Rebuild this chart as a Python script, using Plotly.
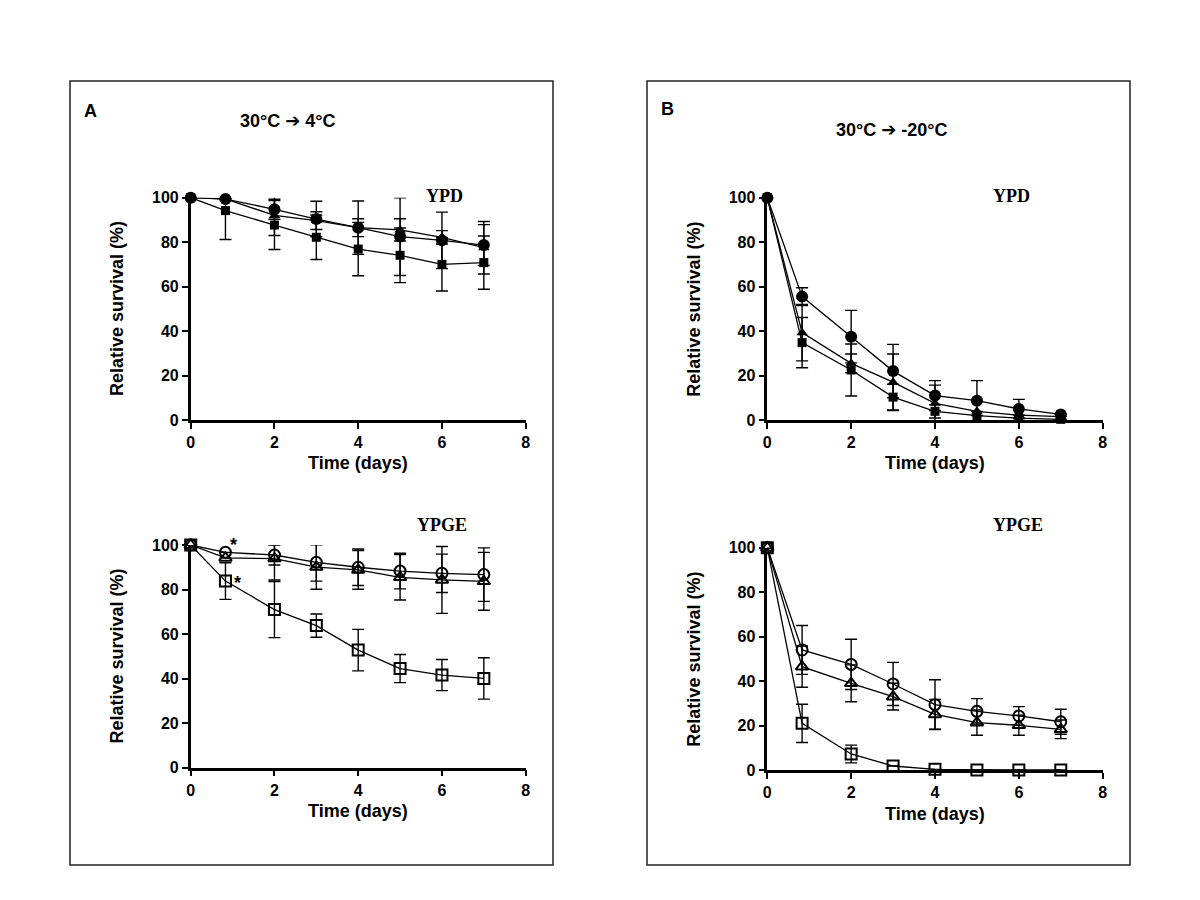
import plotly.graph_objects as go

W, H = 1200, 900
OFF = 8  # the page body has an 8px margin; compensate so pixels match the target

days = [0, 0.83, 2, 3, 4, 5, 6, 7]

# Panel A (30°C -> 4°C), YPD (filled symbols)
a_ypd_circle = [100, 99.4, 94.8, 90.4, 86.5, 82.5, 80.8, 78.7]
a_ypd_circle_err = [0, 0.5, 4.5, 8, 12, 17.5, 12.7, 9.2]
a_ypd_triangle = [100, 99.5, 92, 89.7, 86.5, 85.5, 82.2, 77.5]
a_ypd_triangle_err = [0, 0, 9, 4, 4, 5, 3, 11.8]
a_ypd_square = [100, 94.2, 87.7, 82.2, 76.9, 74.1, 70, 70.8]
a_ypd_square_err = [0, 13, 11, 10, 12, 12.3, 12, 12]

# Panel A, YPGE (open symbols)
a_ypge_circle = [100, 96.7, 95.5, 92.2, 90, 88.3, 87.3, 86.7]
a_ypge_circle_err = [0, 0, 4.5, 8.4, 8.2, 8, 8.6, 12]
a_ypge_triangle = [100, 94.2, 93.9, 90.1, 88.8, 85.5, 84.3, 83.7]
a_ypge_triangle_err = [0, 0, 9.6, 10, 8.7, 10.2, 15, 13]
a_ypge_square = [100, 83.8, 71, 63.8, 52.8, 44.5, 41.6, 40.1]
a_ypge_square_err = [0, 8.2, 12.6, 5.2, 9.3, 6.3, 7, 9.3]

# Panel B (30°C -> -20°C), YPD
b_ypd_circle = [100, 55.5, 37.5, 22, 11, 8.7, 5, 2.5]
b_ypd_circle_err = [0, 4, 11.8, 12, 6.7, 9, 4.3, 0]
b_ypd_triangle = [100, 39.3, 25.5, 17, 7.5, 3.9, 2.2, 1.5]
b_ypd_triangle_err = [0, 12.7, 4.2, 12.7, 8.2, 0, 0, 0]
b_ypd_square = [100, 34.8, 22.5, 10.3, 3.9, 2, 0.8, 0.3]
b_ypd_square_err = [0, 11.3, 11.7, 5.8, 3, 0, 0, 0]

# Panel B, YPGE
b_ypge_circle = [100, 54, 47.5, 38.7, 29.4, 26.4, 24.3, 21.7]
b_ypge_circle_err = [0, 11, 11.3, 9.7, 11.2, 5.7, 4.2, 5.6]
b_ypge_triangle = [100, 46.5, 39, 33, 25, 21.3, 20.1, 18.3]
b_ypge_triangle_err = [0, 9.3, 8.3, 6, 6.7, 5.7, 4.5, 4.2]
b_ypge_square = [100, 21, 7.2, 1.8, 0.3, 0, 0, 0]
b_ypge_square_err = [0, 8.6, 4, 0, 0, 0, 0, 0]

x_ticks = [0, 2, 4, 6, 8]
y_ticks = [0, 20, 40, 60, 80, 100]

# pixel geometry of the four plot areas: (x_left, x_right, y_top(100), y_bottom(0))
areas = {
    1: (190.7, 525.7, 197.7, 420.0),
    2: (190.7, 525.7, 545.0, 767.7),
    3: (767.3, 1102.7, 197.7, 420.0),
    4: (767.3, 1102.7, 547.7, 770.0),
}

def fx(px):
    return (px - OFF) / W

def fy(py):
    return 1 - (py - OFF) / H

SANS = "Liberation Sans"
SERIF = "Liberation Serif"

fig = go.Figure()

def add_series(idx, y, err, symbol, size, open_=False):
    xa = "x" if idx == 1 else f"x{idx}"
    ya = "y" if idx == 1 else f"y{idx}"
    if open_:
        marker = dict(symbol=symbol + "-open", size=size, color="black",
                      line=dict(color="black", width=2))
    else:
        marker = dict(symbol=symbol, size=size, color="black",
                      line=dict(color="black", width=0))
    fig.add_trace(go.Scatter(
        x=days, y=y, xaxis=xa, yaxis=ya, mode="lines+markers",
        line=dict(color="black", width=1.3),
        marker=marker,
        error_y=dict(type="data", array=err, visible=True, color="black",
                     thickness=1.4, width=6),
        cliponaxis=False, showlegend=False,
    ))

add_series(1, a_ypd_square, a_ypd_square_err, "square", 9)
add_series(1, a_ypd_triangle, a_ypd_triangle_err, "triangle-up", 10)
add_series(1, a_ypd_circle, a_ypd_circle_err, "circle", 12)

add_series(2, a_ypge_square, a_ypge_square_err, "square", 11, True)
add_series(2, a_ypge_triangle, a_ypge_triangle_err, "triangle-up", 11, True)
add_series(2, a_ypge_circle, a_ypge_circle_err, "circle", 11, True)

add_series(3, b_ypd_square, b_ypd_square_err, "square", 9)
add_series(3, b_ypd_triangle, b_ypd_triangle_err, "triangle-up", 10)
add_series(3, b_ypd_circle, b_ypd_circle_err, "circle", 12)

add_series(4, b_ypge_square, b_ypge_square_err, "square", 11, True)
add_series(4, b_ypge_triangle, b_ypge_triangle_err, "triangle-up", 11, True)
add_series(4, b_ypge_circle, b_ypge_circle_err, "circle", 11, True)

tickfont = dict(family=SANS, size=16, color="black", weight="bold")
layout = dict(
    width=W, height=H,
    margin=dict(l=0, r=0, t=0, b=0, pad=0, autoexpand=False),
    paper_bgcolor="white", plot_bgcolor="white",
)
for idx, (xl, xr, yt, yb) in areas.items():
    xs = "" if idx == 1 else str(idx)
    layout["xaxis" + xs] = dict(
        domain=[fx(xl), fx(xr)], range=[0, 8], tickvals=x_ticks,
        anchor="y" + xs, showgrid=False, zeroline=False, automargin=False,
        showline=True, linecolor="black", linewidth=2.5,
        ticks="outside", ticklen=6, tickwidth=2, tickcolor="black",
        tickfont=tickfont,
    )
    layout["yaxis" + xs] = dict(
        domain=[fy(yb), fy(yt)], range=[0, 100], tickvals=y_ticks,
        anchor="x" + xs, showgrid=False, zeroline=False, automargin=False,
        showline=True, linecolor="black", linewidth=2.5,
        ticks="outside", ticklen=6, tickwidth=2, tickcolor="black",
        tickfont=tickfont,
    )
fig.update_layout(**layout)

ann = []
def pa(text, x, y, size, family=SANS, angle=0, weight="bold"):
    ann.append(dict(text=text, x=fx(x), y=fy(y), xref="paper", yref="paper",
                    showarrow=False, textangle=angle, xanchor="center", yanchor="middle",
                    font=dict(family=family, size=size, color="black", weight=weight)))

# axis titles
for idx, (xl, xr, yt, yb) in areas.items():
    pa("Relative survival (%)", xl - 73.5, (yt + yb) / 2, 18, angle=-90)
    pa("Time (days)", (xl + xr) / 2, yb + 43.5, 18)

# medium labels
pa("YPD", 444, 196, 18, family=SERIF)
pa("YPGE", 442, 525, 18, family=SERIF)
pa("YPD", 1011, 196, 18, family=SERIF)
pa("YPGE", 1018, 525, 18, family=SERIF)

# panel letters and titles
ARROW = "<span style='font-family:DejaVu Sans'>➔</span>"
pa("A", 90, 111, 18)
pa("30°C " + ARROW + " 4°C", 288, 121, 18)
pa("B", 667, 109, 18)
pa("30°C " + ARROW + " -20°C", 892, 129, 18)

# asterisks (significance marks), pixel positions in the lower-left panel
for px, py in [(233, 545), (237.5, 583)]:
    pa("*", px, py, 18)

fig.update_layout(annotations=ann)

# panel frames
shapes = [
    dict(type="rect", xref="paper", yref="paper", x0=fx(70), x1=fx(553),
         y0=fy(865), y1=fy(81), line=dict(color="#222", width=1.5)),
    dict(type="rect", xref="paper", yref="paper", x0=fx(647), x1=fx(1130),
         y0=fy(865), y1=fy(81), line=dict(color="#222", width=1.5)),
]
fig.update_layout(shapes=shapes)

fig.write_html("out.html")
